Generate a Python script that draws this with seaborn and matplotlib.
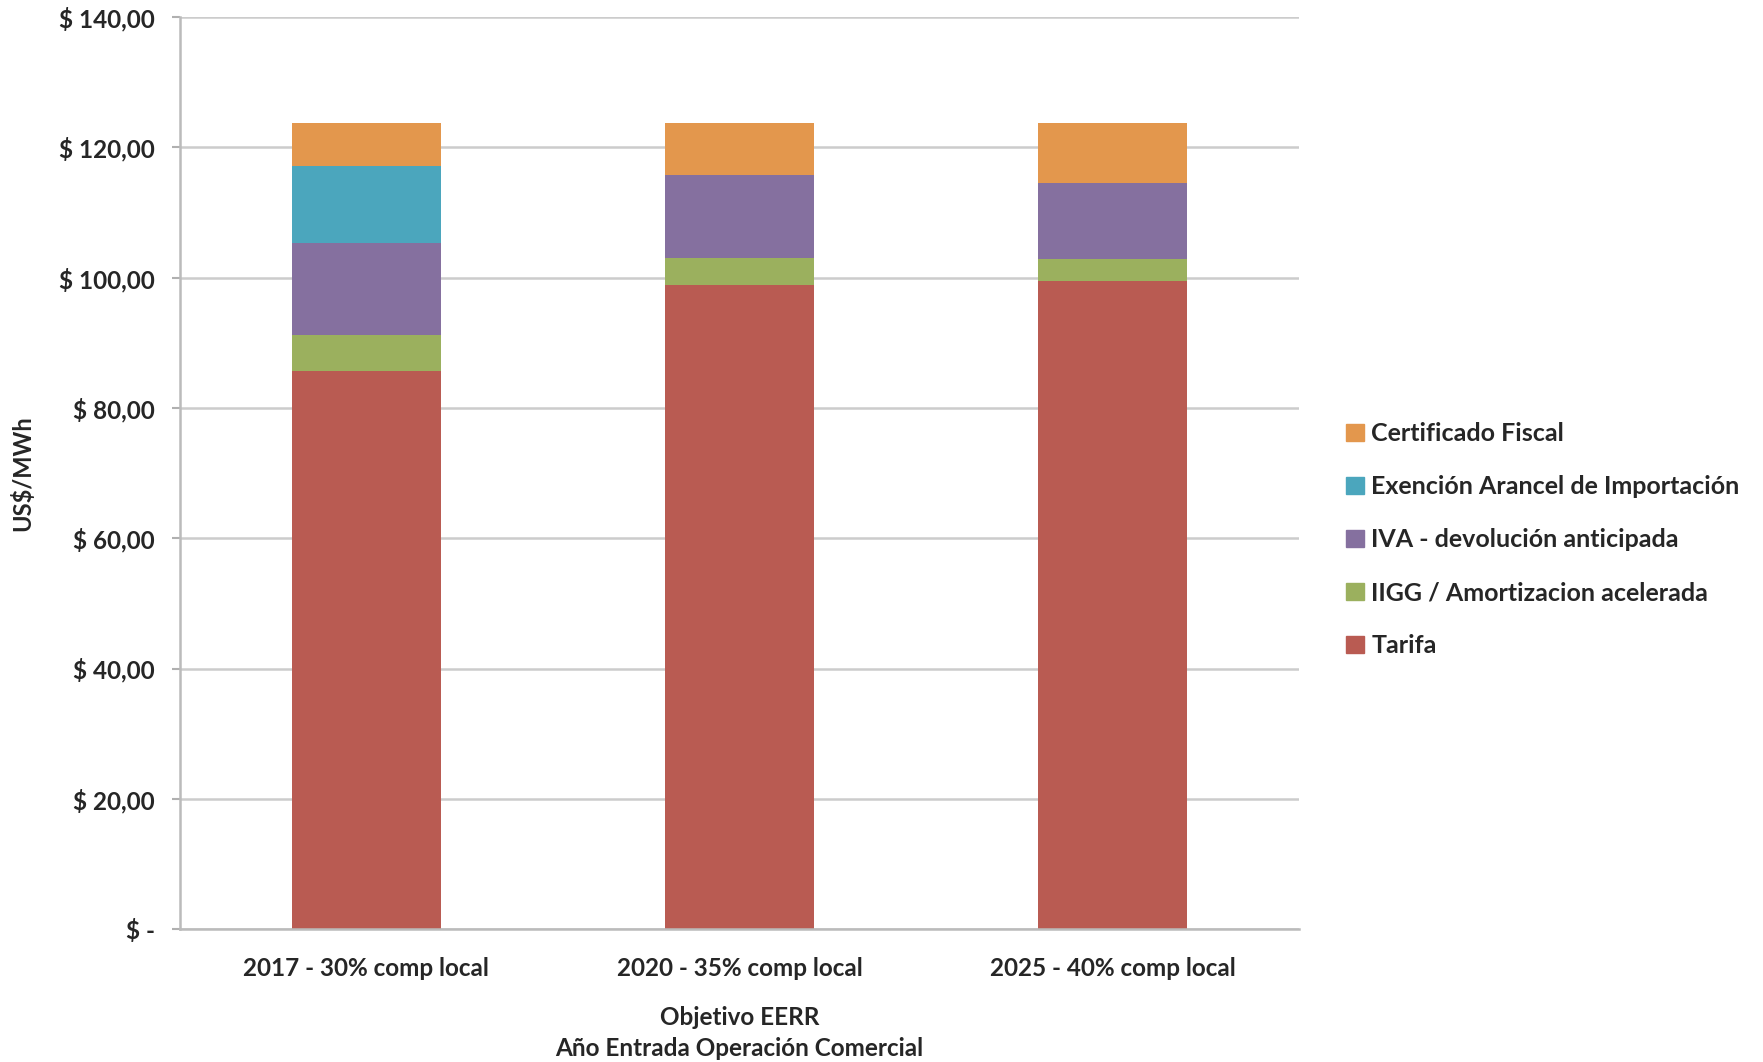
import numpy as np
import pandas as pd
import matplotlib
matplotlib.use("Agg")
import matplotlib.pyplot as plt
import matplotlib.patches as mpatches
import seaborn as sns

# --- Données ---
categorias = ["2017 - 30% comp local", "2020 - 35% comp local", "2025 - 40% comp local"]
tarifa = [85.7, 98.8, 99.5]
iigg = [5.5, 4.2, 3.4]
iva = [14.15, 12.7, 11.65]
exencion = [11.85, 0.0, 0.0]
certificado = [6.55, 8.0, 9.2]

series = ["Tarifa", "IIGG / Amortizacion acelerada", "IVA - devolución anticipada",
          "Exención Arancel de Importación", "Certificado Fiscal"]
colores = ["#B95B52", "#9BB05E", "#85709F", "#4BA6BD", "#E3974D"]

sns.set_theme(style="whitegrid")
plt.rcParams['font.family'] = ['Lato', 'DejaVu Sans']
plt.rcParams['font.weight'] = 'bold'

df = pd.DataFrame({"cat": categorias, "Tarifa": tarifa,
                   "IIGG / Amortizacion acelerada": iigg,
                   "IVA - devolución anticipada": iva,
                   "Exención Arancel de Importación": exencion,
                   "Certificado Fiscal": certificado})
acum = df[series].cumsum(axis=1)

fig = plt.figure(figsize=(17.63, 10.62), dpi=100)
ax = fig.add_axes([0.102, 0.125, 0.635, 0.859])

# barras apiladas: de la más alta a la más baja
for s, c in reversed(list(zip(series, colores))):
    sns.barplot(x=df["cat"], y=acum[s], color=c, width=0.40, saturation=1,
                linewidth=0, ax=ax)

ax.set_ylim(0, 140)
ax.set_xlim(-0.5, 2.5)
ax.set_yticks(np.arange(0, 141, 20))
ax.set_yticklabels(["$ -"] + [f"$ {v:.2f}".replace(".", ",") for v in range(20, 141, 20)],
                   fontsize=17.5, fontweight='bold')
ax.set_xticks(range(3))
ax.set_xticklabels(categorias, fontsize=17.5, fontweight='bold')
ax.set_xticks([-0.5, 0.5, 1.5, 2.5], minor=True)
ax.tick_params(axis='x', which='major', length=0, pad=20)
ax.tick_params(axis='x', which='minor', length=6, color='#b0b0b0', width=1.5)
ax.tick_params(axis='y', length=6, color='#b0b0b0', width=1.5, pad=12, left=True)

ax.grid(axis='y', color='#cccccc', linewidth=1.8)
ax.grid(axis='x', visible=False)
ax.set_axisbelow(True)
for side in ["top", "right"]:
    ax.spines[side].set_visible(False)
for side in ["left", "bottom"]:
    ax.spines[side].set_color('#bbbbbb')
    ax.spines[side].set_linewidth(1.8)

ax.set_xlabel("Objetivo EERR\nAño Entrada Operación Comercial", fontsize=17.5,
              fontweight='bold', labelpad=19, linespacing=1.4)
ax.set_ylabel("US$/MWh", fontsize=17, fontweight='bold', labelpad=18)

handles = [mpatches.Patch(color=c, label=s) for s, c in zip(series, colores)][::-1]
ax.legend(handles=handles, loc='center left', bbox_to_anchor=(1.022, 0.427),
          frameon=False, handlelength=0.7, handleheight=0.7,
          handletextpad=0.3, labelspacing=1.2, prop={'weight': 'bold', 'size': 18})

fig.savefig("out.png", dpi=100)
